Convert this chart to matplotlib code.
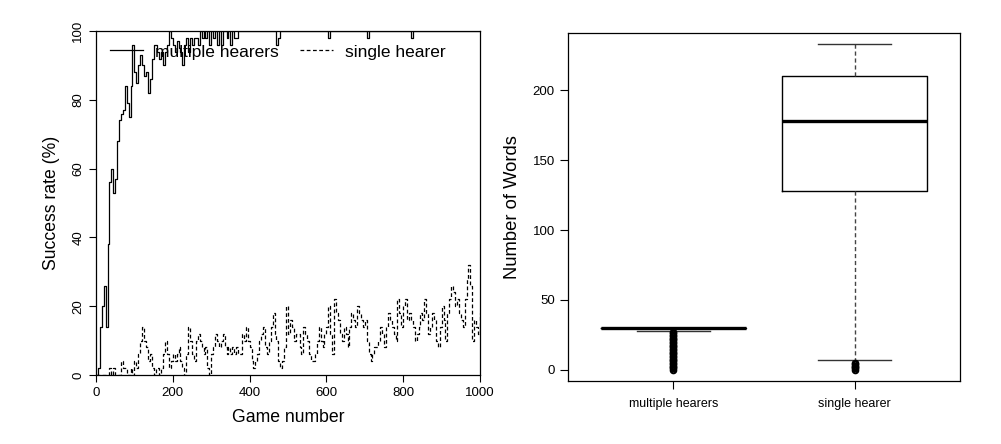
import numpy as np
import matplotlib
matplotlib.use("Agg")
import matplotlib.pyplot as plt

plt.rcParams['font.family'] = ['Liberation Sans', 'DejaVu Sans']

# game number, sampled every 5 games
games = np.arange(0, 1001, 5)

# success rate (%)
multiple_hearers = (
    [0, 2, 14, 20, 26, 14, 38, 56, 60, 53, 57, 68, 74, 76, 77, 84, 79, 75, 84, 96,
     88, 85, 90, 93, 90, 87, 88, 82, 86, 92, 96, 96, 94, 92, 94, 90, 94, 96, 100, 98,
     96, 94, 97, 95, 94, 90, 96, 98, 94, 98, 96, 98, 98, 96, 100, 98, 100, 98, 100, 96,
     100, 98, 100, 96, 100, 96, 100, 100, 98, 100, 96, 100, 98, 98, 100]
    + [100] * 19 + [96, 98]
    + [100] * 25 + [98]
    + [100] * 19 + [98]
    + [100] * 22 + [98]
    + [100] * 36
)
single_hearer = [
    0, 0, 0, 0, 0, 0, 0, 2, 0, 2, 0, 0, 0, 4, 2, 2, 0, 0, 2, 0,
    4, 2, 6, 10, 14, 10, 8, 4, 6, 2, 0, 2, 2, 0, 2, 6, 10, 6, 2, 4,
    6, 4, 6, 8, 4, 2, 0, 6, 14, 10, 6, 4, 10, 12, 10, 8, 6, 8, 2, 0,
    6, 8, 12, 10, 8, 10, 12, 8, 6, 8, 6, 8, 6, 8, 6, 6, 12, 10, 14, 10,
    8, 4, 2, 4, 6, 10, 12, 14, 8, 6, 10, 14, 18, 12, 10, 4, 2, 4, 8, 20,
    12, 16, 14, 10, 12, 12, 8, 6, 14, 12, 10, 6, 4, 4, 6, 10, 14, 10, 8, 12,
    14, 20, 12, 6, 22, 18, 16, 12, 10, 14, 12, 8, 14, 18, 16, 14, 20, 18, 16, 14,
    16, 10, 6, 4, 6, 8, 8, 10, 14, 12, 8, 14, 18, 16, 14, 12, 10, 22, 18, 14,
    20, 22, 16, 18, 16, 14, 10, 12, 14, 18, 16, 22, 18, 12, 14, 18, 16, 10, 8, 14,
    20, 16, 10, 18, 22, 26, 24, 20, 22, 18, 16, 14, 22, 28, 32, 26, 10, 16, 14, 12,
    18,
]

# boxplot summary, number of words
groups = ["multiple hearers", "single hearer"]
medians = [30, 178]
q1s = [30, 128]
q3s = [30, 210]
whisk_lo = [28, 7]
whisk_hi = [30, 233]
fliers = [list(range(0, 28)), [0, 1, 2, 3, 4, 5]]

fig = plt.figure(figsize=(10.01, 4.44), dpi=100)

# ---- left panel: success rate
ax1 = fig.add_axes([0.0959, 0.1554, 0.3836, 0.7748])
ax1.plot(games, multiple_hearers, color="black", lw=0.9, drawstyle="steps-post",
         label="multiple hearers")
ax1.plot(games, single_hearer, color="black", lw=0.9, drawstyle="steps-post",
         linestyle=(0, (3, 2)), label="single hearer")
ax1.set_xlim(0, 1000)
ax1.set_ylim(0, 100)
ax1.set_xticks([0, 200, 400, 600, 800, 1000])
ax1.set_yticks([0, 20, 40, 60, 80, 100])
ax1.tick_params(axis="both", labelsize=9.5, length=5, width=0.8, direction="out")
for lab in ax1.get_yticklabels():
    lab.set_rotation(90)
    lab.set_va("center")
ax1.set_xlabel("Game number", fontsize=12.7, labelpad=7)
ax1.set_ylabel("Success rate (%)", fontsize=12.7, labelpad=9)
for sp in ax1.spines.values():
    sp.set_linewidth(0.9)
ax1.legend(ncol=2, frameon=False, fontsize=12.5, loc="center left",
           bbox_to_anchor=(0.036, 0.939), borderpad=0, borderaxespad=0,
           handlelength=1.9, handletextpad=0.7, columnspacing=1.2)

# ---- right panel: number of words
ax2 = fig.add_axes([0.5674, 0.1419, 0.3916, 0.7838])
stats = []
for i in range(len(groups)):
    stats.append(dict(med=medians[i], q1=q1s[i], q3=q3s[i],
                      whislo=whisk_lo[i], whishi=whisk_hi[i],
                      fliers=fliers[i], label=groups[i]))
ax2.bxp(stats, positions=[1, 2], widths=0.8,
        boxprops=dict(color="black", lw=1.0),
        medianprops=dict(color="black", lw=2.4),
        whiskerprops=dict(color="#444444", lw=1.0, linestyle=(0, (3, 2))),
        capprops=dict(color="#333333", lw=1.0),
        flierprops=dict(marker="o", markersize=4, markerfacecolor="none",
                        markeredgecolor="black", markeredgewidth=1.5))
ax2.set_xlim(0.42, 2.58)
ax2.set_ylim(-8, 241)
ax2.set_yticks([0, 50, 100, 150, 200])
ax2.tick_params(axis="both", labelsize=9.5, length=6, width=0.8, direction="out")
ax2.tick_params(axis="x", labelsize=9, pad=6)
ax2.set_ylabel("Number of Words", fontsize=13.2, labelpad=8)
for sp in ax2.spines.values():
    sp.set_linewidth(0.9)

fig.savefig("out.png", dpi=100)
